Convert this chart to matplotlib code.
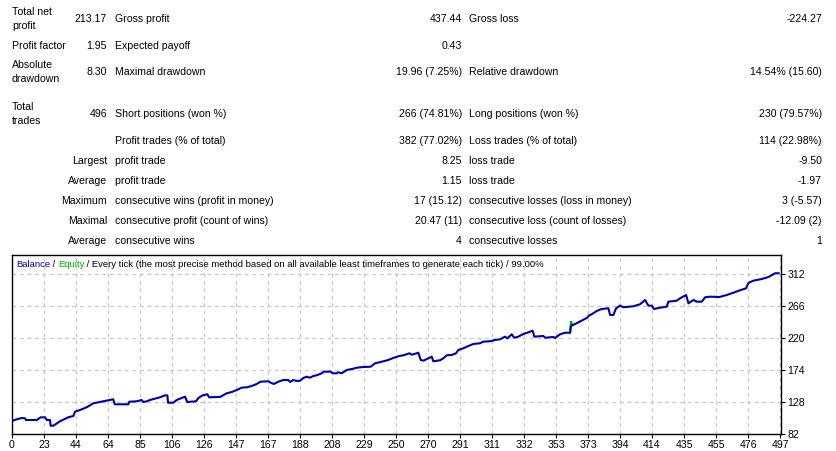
import matplotlib.pyplot as plt
from matplotlib.offsetbox import TextArea, HPacker, AnchoredOffsetbox

W, H = 837, 451

# report table: (label, value, label, value, label, value)
rows = [
    ("Total net\nprofit", "213.17", "Gross profit", "437.44", "Gross loss", "-224.27"),
    ("Profit factor", "1.95", "Expected payoff", "0.43", "", ""),
    ("Absolute\ndrawdown", "8.30", "Maximal drawdown", "19.96 (7.25%)", "Relative drawdown", "14.54% (15.60)"),
    ("Total\ntrades", "496", "Short positions (won %)", "266 (74.81%)", "Long positions (won %)", "230 (79.57%)"),
    ("", "", "Profit trades (% of total)", "382 (77.02%)", "Loss trades (% of total)", "114 (22.98%)"),
    ("", "Largest", "profit trade", "8.25", "loss trade", "-9.50"),
    ("", "Average", "profit trade", "1.15", "loss trade", "-1.97"),
    ("", "Maximum", "consecutive wins (profit in money)", "17 (15.12)", "consecutive losses (loss in money)", "3 (-5.57)"),
    ("", "Maximal", "consecutive profit (count of wins)", "20.47 (11)", "consecutive loss (count of losses)", "-12.09 (2)"),
    ("", "Average", "consecutive wins", "4", "consecutive losses", "1"),
]
row_y = [19, 46, 72, 114, 141, 161, 181, 201, 221, 241]

# balance curve (trade number, balance)
trade = [0, 3.0, 6.3, 8.4, 9.1, 16.0, 18.6, 21.4, 22.5, 24.6, 25.0, 26.7, 31.1, 36.4,
         39.7, 40.8, 44.0, 48.3, 52.6, 56.9, 61.3, 65.5, 66.5, 75.3, 75.9, 80.7, 83.9,
         85.0, 87.2, 89.3, 95.8, 99.0, 100.5, 101.0, 104.4, 106.6, 109.8, 112.0, 113.4,
         119.1, 120.6, 123.4, 126.4, 127.5, 134.6, 138.9, 142.2, 145.4, 148.6, 151.9,
         155.1, 158.3, 160.9, 165.9, 167.4, 169.5, 172.3, 175.6, 178.8, 179.9, 182.0,
         184.2, 186.4, 188.5, 190.7, 192.8, 195.0, 197.2, 200.4, 201.9, 206.2, 207.5,
         210.1, 211.2, 213.3, 216.6, 220.9, 223.1, 227.3, 232.1, 234.9, 239.2, 243.5,
         246.7, 250.6, 253.2, 257.1, 258.7, 261.9, 262.9, 264.5, 266.2, 269.4, 271.6,
         272.6, 277.0, 279.1, 281.3, 284.5, 287.3, 288.8, 292.0, 295.3, 298.5, 302.8,
         305.0, 309.3, 312.6, 315.8, 319.0, 320.5, 323.4, 324.9, 327.6, 330.9, 334.2,
         336.9, 338.0, 343.8, 344.9, 350.3, 351.4, 354.6, 357.9, 361.1, 361.7, 365.4,
         368.6, 371.9, 373.6, 375.1, 378.4, 381.6, 385.9, 387.0, 389.1, 390.9, 393.4,
         395.6, 402.1, 406.4, 409.6, 411.8, 414.0, 415.4, 419.3, 423.7, 424.7, 430.1,
         432.3, 436.2, 437.7, 440.9, 443.1, 446.3, 448.5, 451.7, 457.7, 462.5, 466.8,
         471.1, 475.0, 476.5, 479.7, 485.2, 489.5, 493.8, 496.0]
balance = [100.7, 103.1, 105.0, 104.6, 102.1, 102.1, 106.0, 106.0, 102.1, 102.1, 93.9,
           93.9, 100.3, 106.0, 107.9, 114.1, 116.5, 120.4, 126.1, 128.0, 129.9, 131.9,
           124.7, 124.7, 128.4, 129.0, 130.9, 128.0, 129.0, 130.9, 134.8, 137.6, 137.6,
           127.0, 127.0, 130.9, 133.8, 135.6, 128.0, 129.0, 133.8, 137.6, 139.1, 134.8,
           135.2, 140.5, 142.4, 145.2, 148.6, 149.1, 151.0, 153.9, 157.2, 157.8, 155.7,
           153.9, 157.2, 159.6, 159.6, 156.8, 159.6, 158.2, 158.6, 162.5, 164.4, 162.9,
           165.4, 166.4, 169.3, 171.6, 171.6, 169.3, 169.3, 170.7, 169.3, 174.0, 175.9,
           177.3, 178.3, 178.7, 183.6, 185.9, 188.4, 191.3, 194.1, 195.1, 198.0, 196.0,
           198.0, 198.9, 188.4, 187.4, 190.8, 193.1, 186.5, 188.0, 190.8, 195.1, 195.6,
           198.0, 202.8, 205.2, 208.5, 211.4, 212.4, 214.7, 215.3, 217.1, 218.1, 221.9,
           219.6, 225.3, 220.4, 221.9, 225.8, 228.2, 230.5, 221.9, 222.9, 220.4, 221.4,
           220.0, 225.3, 227.6, 227.6, 237.3, 241.2, 244.9, 248.8, 252.7, 254.1, 258.9,
           261.7, 262.7, 253.1, 253.1, 262.7, 266.5, 264.2, 265.6, 268.5, 274.6, 266.5,
           266.5, 261.7, 263.6, 265.0, 272.2, 273.6, 277.1, 281.8, 269.9, 274.6, 272.2,
           272.2, 278.5, 279.4, 278.9, 281.8, 285.1, 288.6, 291.4, 299.1, 302.4, 304.8,
           307.7, 313.0, 313.17]
# equity only shows where it leaves the balance line
eq_trade = [361.1, 361.7, 362.3]
eq_value = [227.6, 243.5, 240.5]

xtick_labels = ["0", "23", "44", "64", "85", "106", "126", "147", "167", "188", "208", "229",
                "250", "270", "291", "311", "332", "353", "373", "394", "414", "435", "455",
                "476", "497"]
ytick_values = [82, 128, 174, 220, 266, 312]

caption = [("Balance", "#0000AA"), (" / ", "black"), ("Equity", "#00B000"),
           (" / Every tick (the most precise method based on all available least "
            "timeframes to generate each tick) / 99.00%", "black")]

FONT = "Liberation Sans"
FS = 7.6

fig = plt.figure(figsize=(W / 100, H / 100), dpi=100)
fig.patch.set_facecolor("white")


def put(x, y, s, ha="left"):
    fig.text(x / W, 1 - y / H, s, ha=ha, va="center", fontsize=FS,
             family=FONT, linespacing=1.45)


for r, y in zip(rows, row_y):
    put(12, y, r[0])
    put(107, y, r[1], ha="right")
    put(115, y, r[2])
    put(462, y, r[3], ha="right")
    put(469, y, r[4])
    put(822, y, r[5], ha="right")

ax = fig.add_axes([12 / W, 17 / H, 769 / W, 179 / H])
ax.plot(eq_trade, eq_value, color="#00B000", lw=1.5)
ax.plot(trade, balance, color="#0000AA", lw=1.5)

xt = [i * 497 / 24 for i in range(25)]
ax.set_xticks(xt)
ax.set_xticklabels(xtick_labels)
ax.set_yticks(ytick_values)
ax.set_xlim(0, 497.6)
ax.set_ylim(82, 339.3)
ax.yaxis.tick_right()
ax.tick_params(length=3, width=0.8, pad=1.5, labelsize=FS)
for lab in ax.get_xticklabels() + ax.get_yticklabels():
    lab.set_family(FONT)
ax.grid(True, color="#C8C8C8", linestyle=(0, (3, 3)), linewidth=0.9)
for sp in ax.spines.values():
    sp.set_linewidth(1)
    sp.set_color("black")

boxes = [TextArea(s, textprops=dict(color=c, fontsize=6.8, family=FONT)) for s, c in caption]
pack = HPacker(children=boxes, pad=0, sep=0)
ab = AnchoredOffsetbox(loc="upper left", child=pack, pad=0, borderpad=0, frameon=False,
                       bbox_to_anchor=(16 / W, 1 - 260 / H), bbox_transform=fig.transFigure)
ax.add_artist(ab)

fig.savefig("out.png", dpi=100)
